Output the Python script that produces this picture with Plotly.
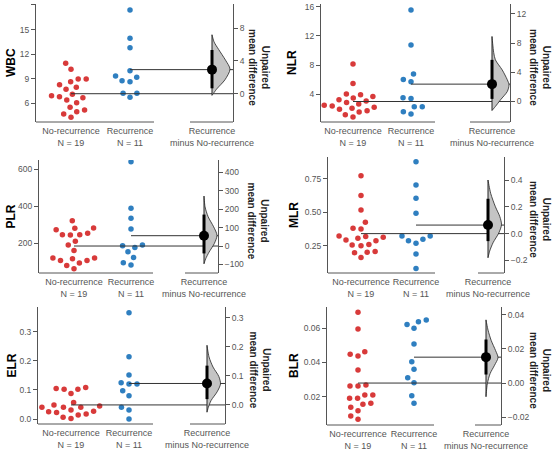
import math
import plotly.graph_objects as go

W, H = 557, 455

# ---------------- data ----------------
groups = ["No-recurrence", "Recurrence"]
n_ctrl, n_rec = 19, 11
metrics = ["WBC", "NLR", "PLR", "MLR", "ELR", "BLR"]

wbc_ctrl = [10.88, 10.15, 8.96, 8.96, 8.64, 8.27, 7.95, 7.70, 7.10, 6.93, 6.68, 6.80, 6.40, 6.07, 5.51, 5.18, 4.97, 4.69, 4.29]
wbc_rec = [17.39, 13.93, 12.79, 9.98, 9.33, 9.17, 8.64, 8.76, 7.22, 7.22, 6.73]

nlr_ctrl = [8.15, 5.5, 4.05, 3.95, 3.7, 3.5, 3.25, 3.1, 2.9, 2.7, 2.5, 2.4, 2.25, 2.1, 1.95, 1.75, 1.6, 1.2, 0.9]
nlr_rec = [15.54, 10.75, 6.78, 6.05, 5.74, 3.55, 3.45, 2.31, 2.31, 1.63, 1.31]

plr_ctrl = [322, 274, 281, 283, 247, 247, 245, 254, 211, 191, 161, 121, 107, 116, 107, 121, 94, 80, 62]
plr_rec = [641, 389, 335, 277, 155, 187, 177, 191, 124, 95, 83]

mlr_ctrl = [0.775, 0.626, 0.519, 0.427, 0.377, 0.382, 0.325, 0.320, 0.315, 0.307, 0.295, 0.290, 0.262, 0.257, 0.252, 0.208, 0.203, 0.200, 0.165]
mlr_rec = [0.879, 0.705, 0.606, 0.494, 0.290, 0.325, 0.300, 0.325, 0.270, 0.190, 0.083]

elr_ctrl = [0.108, 0.105, 0.102, 0.102, 0.088, 0.057, 0.048, 0.045, 0.040, 0.040, 0.040, 0.031, 0.027, 0.025, 0.022, 0.017, 0.014, 0.006, 0.002]
elr_rec = [0.365, 0.214, 0.151, 0.125, 0.120, 0.120, 0.097, 0.080, 0.040, 0.031, 0.000]

blr_ctrl = [0.0694, 0.0596, 0.0448, 0.0463, 0.0438, 0.0356, 0.0262, 0.0268, 0.0262, 0.0190, 0.0210, 0.0210, 0.0190, 0.0138, 0.0161, 0.0155, 0.0118, 0.0087, 0.0067]
blr_rec = [0.0600, 0.0639, 0.0623, 0.0649, 0.0508, 0.0405, 0.0360, 0.0311, 0.0282, 0.0206, 0.0161]

# bootstrap distribution of the mean difference: (difference value, relative density)
wbc_boot_y = [7.2, 6.3, 5.4, 4.1, 3.0, 1.7, 0.6, -0.2]
wbc_boot_d = [0, 0.12, 0.37, 0.75, 1.0, 0.72, 0.27, 0]
nlr_boot_y = [8.9, 6.7, 5.7, 4.33, 2.97, 2.28, 1.37, 0.23, -0.68, -1.23]
nlr_boot_d = [0, 0.1, 0.2, 0.6, 0.9, 1.0, 0.9, 0.5, 0.2, 0]
plr_boot_y = [270, 212, 158, 104, 58, 13, -33, -69, -96]
plr_boot_d = [0, 0.08, 0.32, 0.74, 1.0, 0.79, 0.39, 0.13, 0]
mlr_boot_y = [0.40, 0.30, 0.20, 0.127, 0.066, 0.005, -0.068, -0.13, -0.18]
mlr_boot_d = [0, 0.2, 0.55, 0.875, 1.0, 0.8, 0.375, 0.125, 0]
elr_boot_y = [0.205, 0.165, 0.13, 0.098, 0.072, 0.045, 0.015, -0.008, -0.025]
elr_boot_d = [0, 0.15, 0.45, 0.875, 1.0, 0.75, 0.3, 0.1, 0]
blr_boot_y = [0.037, 0.031, 0.025, 0.019, 0.0149, 0.0104, 0.0055, -0.0004, -0.008]
blr_boot_d = [0, 0.17, 0.43, 0.8, 1.0, 0.71, 0.34, 0.11, 0]

# 95% confidence intervals of the mean difference
wbc_ci = [0.66, 5.34]
nlr_ci = [0.36, 5.7]
plr_ci = [-40, 170]
mlr_ci = [-0.056, 0.26]
elr_ci = [0.02, 0.135]
blr_ci = [0.005, 0.0255]

# tick labels
wbc_ticks = [6, 9, 12, 15, 18]
wbc_diff_ticks = [0, 4, 8]
nlr_ticks = [4, 8, 12, 16]
nlr_diff_ticks = [0, 4, 8, 12]
plr_ticks = [200, 400, 600]
plr_diff_ticks = [-100, 0, 100, 200, 300, 400]
mlr_ticks = [0.25, 0.50, 0.75]
mlr_diff_ticks = [-0.2, 0.0, 0.2, 0.4]
elr_ticks = [0.0, 0.1, 0.2, 0.3]
elr_diff_ticks = [0.0, 0.1, 0.2, 0.3]
blr_ticks = [0.02, 0.04, 0.06]
blr_diff_ticks = [-0.02, 0.0, 0.02, 0.04]

ctrl_sets = [wbc_ctrl, nlr_ctrl, plr_ctrl, mlr_ctrl, elr_ctrl, blr_ctrl]
rec_sets = [wbc_rec, nlr_rec, plr_rec, mlr_rec, elr_rec, blr_rec]
boot_y = [wbc_boot_y, nlr_boot_y, plr_boot_y, mlr_boot_y, elr_boot_y, blr_boot_y]
boot_d = [wbc_boot_d, nlr_boot_d, plr_boot_d, mlr_boot_d, elr_boot_d, blr_boot_d]
cis = [wbc_ci, nlr_ci, plr_ci, mlr_ci, elr_ci, blr_ci]
raw_ticks = [wbc_ticks, nlr_ticks, plr_ticks, mlr_ticks, elr_ticks, blr_ticks]
diff_ticks = [wbc_diff_ticks, nlr_diff_ticks, plr_diff_ticks, mlr_diff_ticks, elr_diff_ticks, blr_diff_ticks]
raw_fmt = ["{:.0f}", "{:.0f}", "{:.0f}", "{:.2f}", "{:.1f}", "{:.2f}"]
diff_fmt = ["{:.0f}", "{:.0f}", "{:.0f}", "{:.1f}", "{:.1f}", "{:.2f}"]

# ---------------- layout geometry (pixels) ----------------
geo = [
    dict(L=36, R=233, T=4, B=122, cx=71, tx=130, re=154, ds=190, vx=212, ylo=3.71, yhi=18.12, vw=18),
    dict(L=321, R=510, T=4, B=122, cx=353, tx=411, re=435, ds=470, vx=492, ylo=0.22, yhi=16.37, vw=17),
    dict(L=39, R=218, T=160, B=273, cx=74, tx=131, re=153, ds=185, vx=204, ylo=39.6, yhi=650.5, vw=13),
    dict(L=328, R=504, T=157, B=273, cx=361, tx=416, re=435, ds=478, vx=488, ylo=0.0485, yhi=0.914, vw=13.5),
    dict(L=38, R=225, T=307, B=424, cx=71, tx=129, re=153, ds=190, vx=207, ylo=-0.0172, yhi=0.385, vw=13.5),
    dict(L=327, R=501, T=307, B=425, cx=358, tx=414, re=434, ds=475, vx=486, ylo=0.0034, yhi=0.0725, vw=12),
]
title_x = [11, 292, 10, 294, 11, 294]
diff_title_x = [259, 540, 257, 540, 260, 540]

RED = "#d83a3a"
BLUE = "#2f7fc0"
AX = "#555555"
TICKC = "#555555"
FONT = "Liberation Sans"


def swarm(values, ppu, d):
    n = len(values)
    order = sorted(range(n), key=lambda i: values[i])
    placed = []
    xs = [0.0] * n
    for i in order:
        y = values[i] * ppu
        forb = []
        for (px, py) in placed:
            dy = abs(py - y)
            if dy < d:
                dx = math.sqrt(d * d - dy * dy)
                forb.append((px - dx, px + dx))
        cands = [0.0] + [a for a, b in forb] + [b for a, b in forb]
        cands.sort(key=lambda c: (abs(c), c))
        for c in cands:
            if all(not (a + 1e-6 < c < b - 1e-6) for a, b in forb):
                xs[i] = c
                break
        placed.append((xs[i], y))
    return xs


def aid(prefix, n):
    return prefix if n == 1 else "%s%d" % (prefix, n)


fig = go.Figure()
layout = dict(
    width=W, height=H, margin=dict(l=0, r=0, t=0, b=0, autoexpand=False),
    paper_bgcolor="white", plot_bgcolor="white", showlegend=False,
    font=dict(family=FONT, color=TICKC),
)
shapes = []
annotations = []

for k in range(6):
    g = geo[k]
    ctrl, rec = ctrl_sets[k], rec_sets[k]
    xa = aid("x", k + 1)
    ya = aid("y", k + 1)
    yd = aid("y", k + 7)
    u = g["tx"] - g["cx"]
    xlo = (g["L"] - g["cx"]) / u
    xhi = (g["R"] - g["cx"]) / u
    vx = (g["vx"] - g["cx"]) / u
    ppu_y = (g["B"] - g["T"]) / (g["yhi"] - g["ylo"])
    cm = sum(ctrl) / len(ctrl)
    tm = sum(rec) / len(rec)
    diff = tm - cm

    sx_c = [s / u for s in swarm(ctrl, ppu_y, 8.0)]
    sx_t = [1 + s / u for s in swarm(rec, ppu_y, 8.0)]
    fig.add_trace(go.Scatter(x=sx_c, y=ctrl, mode="markers", xaxis=xa, yaxis=ya,
                             marker=dict(color=RED, size=5.5), hoverinfo="y"))
    fig.add_trace(go.Scatter(x=sx_t, y=rec, mode="markers", xaxis=xa, yaxis=ya,
                             marker=dict(color=BLUE, size=5.5), hoverinfo="y"))
    fig.add_trace(go.Scatter(x=[0, xhi], y=[cm, cm], mode="lines", xaxis=xa, yaxis=ya,
                             line=dict(color="#333333", width=1), hoverinfo="skip"))
    fig.add_trace(go.Scatter(x=[1, xhi], y=[tm, tm], mode="lines", xaxis=xa, yaxis=ya,
                             line=dict(color="#333333", width=1), hoverinfo="skip"))

    wmax = g["vw"] / u
    by, bd = boot_y[k], boot_d[k]
    vxs = [vx] + [vx + d * wmax for d in bd] + [vx]
    vys = [by[0]] + list(by) + [by[-1]]
    fig.add_trace(go.Scatter(x=vxs, y=vys, mode="lines", fill="toself", fillcolor="#c4c4c4",
                             line=dict(color="#222222", width=0.8, shape="spline", smoothing=0.8),
                             xaxis=xa, yaxis=yd, hoverinfo="skip"))
    fig.add_trace(go.Scatter(x=[vx, vx], y=[by[0], by[-1]], mode="lines", xaxis=xa, yaxis=yd,
                             line=dict(color="#222222", width=1), hoverinfo="skip"))
    fig.add_trace(go.Scatter(x=[vx, vx], y=cis[k], mode="lines", xaxis=xa, yaxis=yd,
                             line=dict(color="black", width=3), hoverinfo="skip"))
    fig.add_trace(go.Scatter(x=[vx], y=[diff], mode="markers", xaxis=xa, yaxis=yd,
                             marker=dict(color="black", size=10), hoverinfo="y"))

    xdom = [g["L"] / W, g["R"] / W]
    ydom = [1 - g["B"] / H, 1 - g["T"] / H]
    layout[aid("xaxis", k + 1)] = dict(
        domain=xdom, range=[xlo, xhi], anchor=ya, showline=False, showgrid=False, zeroline=False,
        ticks="", tickvals=[0, 1, vx], tickangle=0, automargin=False, ticklabelstandoff=2,
        ticktext=["%s<br>N = %d" % (groups[0], n_ctrl), "%s<br>N = %d" % (groups[1], n_rec),
                  "%s<br>minus %s" % (groups[1], groups[0])],
        tickfont=dict(size=9, color=TICKC, family=FONT), fixedrange=True,
    )
    layout[aid("yaxis", k + 1)] = dict(
        domain=ydom, range=[g["ylo"], g["yhi"]], anchor=xa, showline=True, linecolor=AX, linewidth=1,
        showgrid=False, zeroline=False, ticks="outside", ticklen=4, tickcolor=AX, automargin=False,
        tickvals=raw_ticks[k], ticktext=[raw_fmt[k].format(v) for v in raw_ticks[k]],
        tickfont=dict(size=8.5, color=TICKC, family=FONT),
    )
    dt = diff_ticks[k]
    layout[aid("yaxis", k + 7)] = dict(
        overlaying=ya, anchor=xa, side="right", range=[g["ylo"] - cm, g["yhi"] - cm],
        showline=True, linecolor=AX, linewidth=1, showgrid=False, zeroline=False, automargin=False,
        ticks="outside", ticklen=4, tickcolor=AX, tickvals=dt,
        ticktext=[diff_fmt[k].format(v).replace("-", "\u2212") for v in dt],
        tickfont=dict(size=8.5, color=TICKC, family=FONT),
    )
    for (a, b) in [(xlo, (g["re"] - g["cx"]) / u), ((g["ds"] - g["cx"]) / u, xhi)]:
        shapes.append(dict(type="line", xref=xa, yref="%s domain" % ya, x0=a, x1=b, y0=0, y1=0,
                           line=dict(color=AX, width=1)))
    yc = 1 - (g["T"] + g["B"]) / 2 / H
    annotations.append(dict(text="<b>%s</b>" % metrics[k], xref="paper", yref="paper",
                            x=title_x[k] / W, y=yc, xanchor="center", yanchor="middle",
                            showarrow=False, textangle=-90,
                            font=dict(size=12, color="black", family=FONT)))
    annotations.append(dict(text="<b>Unpaired<br>mean difference</b>", xref="paper", yref="paper",
                            x=diff_title_x[k] / W, y=yc - 4 / H, xanchor="center", yanchor="middle",
                            showarrow=False, textangle=90,
                            font=dict(size=10, color="#222222", family=FONT)))

layout["shapes"] = shapes
layout["annotations"] = annotations
fig.update_layout(**layout)
fig.write_html("out.html")
